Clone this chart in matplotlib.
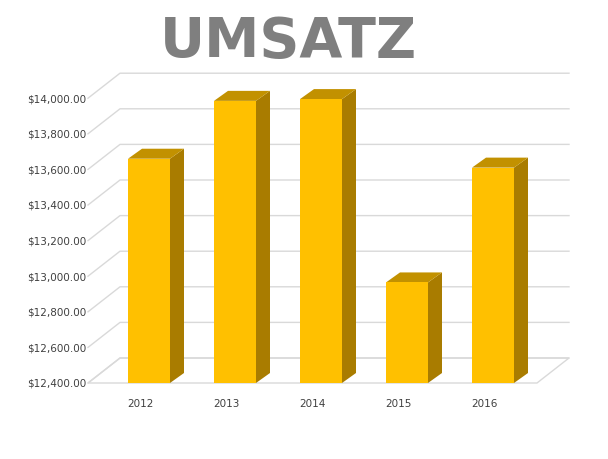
import matplotlib
matplotlib.use("Agg")
import matplotlib.pyplot as plt
from matplotlib.patches import Polygon

years = ["2012", "2013", "2014", "2015", "2016"]
umsatz = [13660, 13985, 13995, 12965, 13610]
ticks = [12400, 12600, 12800, 13000, 13200, 13400, 13600, 13800, 14000]

PXX = 86.0           # pixels per category
PXY = 35.6 / 200.0   # pixels per value unit
x0px, y0px = 149, 384  # pixel of category 0 / value 12400

fig = plt.figure(figsize=(6.08, 4.60), dpi=100)
ax = fig.add_axes([0, 0, 1, 1])
ax.set_xlim(-x0px / PXX, (608 - x0px) / PXX)
ax.set_ylim(12400 - (460 - y0px) / PXY, 12400 + y0px / PXY)
ax.axis("off")

fdx, fdy = 32 / PXX, 25 / PXY   # floor/wall depth
xl = (88 - x0px) / PXX
xr = (537 - x0px) / PXX
grid = "#D9D9D9"
for v in ticks:
    ax.plot([xl, xl + fdx, xr + fdx], [v, v + fdy, v + fdy], color=grid, lw=1, zorder=1)
    ax.text(xl - 0.02, v, "${:,.2f}".format(v), ha="right", va="center", fontsize=7.5, color="#404040")
ax.add_patch(Polygon([(xl, 12400), (xr, 12400), (xr + fdx, 12400 + fdy), (xl + fdx, 12400 + fdy)],
                     closed=True, fill=False, edgecolor=grid, lw=1, zorder=1))

w = 42 / PXX
bdx, bdy = 14 / PXX, 10 / PXY
base = 12400
for i, (yr, v) in enumerate(zip(years, umsatz)):
    l, r = i - w / 2, i + w / 2
    ax.add_patch(Polygon([(r, base), (r + bdx, base + bdy), (r + bdx, v + bdy), (r, v)],
                         closed=True, facecolor="#A97C00", edgecolor="none", zorder=3))
    ax.add_patch(Polygon([(l, v), (r, v), (r + bdx, v + bdy), (l + bdx, v + bdy)],
                         closed=True, facecolor="#C29100", edgecolor="none", zorder=3))
    ax.add_patch(Polygon([(l, base), (r, base), (r, v), (l, v)],
                         closed=True, facecolor="#FFC000", edgecolor="none", zorder=4))
    ax.text(i - 9 / PXX, 12400 - 20 / PXY, yr, ha="center", va="center", fontsize=7.5, color="#404040")

fig.text(288 / 608, 1 - 42 / 460, "UMSATZ", ha="center", va="center",
         fontsize=40, fontweight="bold", color="#7F7F7F")

fig.savefig("out.png", dpi=100)
